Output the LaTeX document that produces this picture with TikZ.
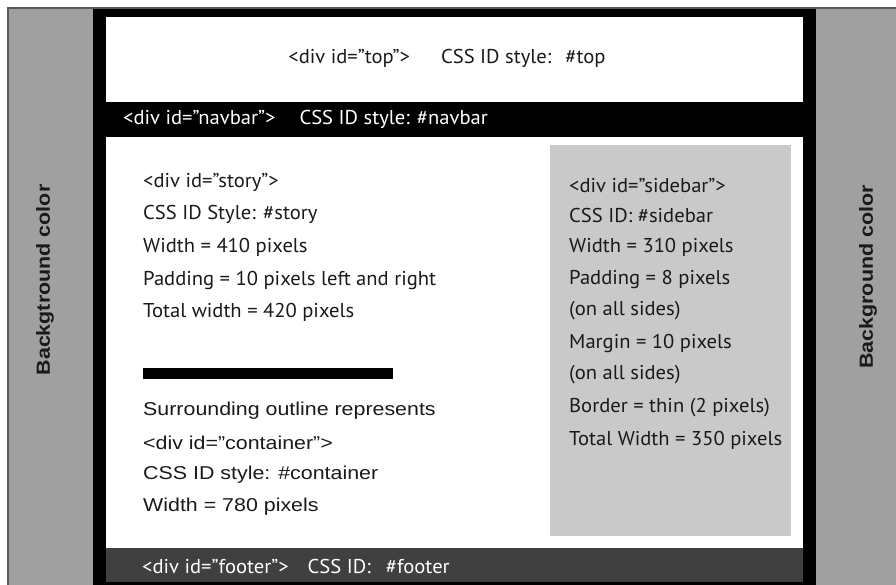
\documentclass[tikz,border=0pt]{standalone}
\usepackage{fontspec}
\setmainfont{PT Sans}[FakeStretch=1.03]
\newfontfamily\arialfont{Liberation Sans}[FakeStretch=1.15]
\newfontfamily\arialside{Liberation Sans}[FakeStretch=1.13]
\usepackage{xcolor}
\usetikzlibrary{positioning}

\definecolor{pagegray}{HTML}{A0A0A0}
\definecolor{edgegray}{HTML}{5A5A5A}
\definecolor{sidegray}{HTML}{C9C9C9}
\definecolor{footgray}{HTML}{404040}
\definecolor{inkgray}{HTML}{1A1A1A}

\begin{document}
\begin{tikzpicture}[
  x=1pt, y=-1pt,
  txt/.style={anchor=west, inner sep=0pt, text=inkgray, font=\fontsize{20}{22}\selectfont},
  arialtxt/.style={anchor=west, inner sep=0pt, text=inkgray, font=\arialfont\fontsize{18.6}{22}\selectfont},
  sidetxt/.style={inner sep=0pt, rotate=90, text=inkgray, font=\arialside\bfseries\fontsize{19}{22}\selectfont},
  bartxt/.style={anchor=west, inner sep=0pt, text=white, font=\fontsize{20}{22}\selectfont}
]
\useasboundingbox (0,0) rectangle (896,585);
\fill[white] (0,0) rectangle (896,585);

% page background and container
\draw[edgegray, fill=pagegray, line width=1.2pt] (8,8) rectangle (897,586);
\fill[black] (93,9) rectangle (816,585);
\fill[white] (106,17) rectangle (803,102);
\fill[white] (106,137) rectangle (803,548);
\fill[footgray] (106,548) rectangle (803,582);
\fill[sidegray] (550,145) rectangle (791,536);
\fill[black] (143,368) rectangle (393,379);

% side labels
\node[sidetxt] (bgleft) at (45,280) {Backgtround color};
\node[sidetxt] (bgright) at (868,277) {Background color};

% top and navbar
\node[txt, anchor=center] (top) at (447,58) {<div id=”top”>\hspace{31pt}CSS ID style:\hspace{14pt}\#top};
\node[bartxt] (navbar) at (123,119) {<div id=”navbar”>\hspace{24pt}CSS ID style:\hspace{7pt}\#navbar};

% story column
\node[txt] (story1) at (143,182) {<div id=”story”>};
\node[txt] (story2) at (143,214) {CSS ID Style: \#story};
\node[txt] (story3) at (143,247) {Width = 410 pixels};
\node[txt] (story4) at (143,280) {Padding = 10 pixels left and right};
\node[txt] (story5) at (143,312) {Total width = 420 pixels};

% container note
\node[arialtxt] (cont1) at (143,411) {Surrounding outline represents};
\node[arialtxt] (cont2) at (143,443) {<div id=”container”>};
\node[arialtxt] (cont3) at (143,475) {CSS ID style: \#container};
\node[arialtxt] (cont4) at (143,507) {Width = 780 pixels};

% sidebar
\node[txt] (side1) at (569,186) {<div id=”sidebar”>};
\node[txt] (side2) at (569,216) {CSS ID: \#sidebar};
\node[txt] (side3) at (569,247) {Width = 310 pixels};
\node[txt] (side4) at (569,279) {Padding = 8 pixels};
\node[txt] (side5) at (569,311) {(on all sides)};
\node[txt] (side6) at (569,343) {Margin = 10 pixels};
\node[txt] (side7) at (569,375) {(on all sides)};
\node[txt] (side8) at (569,408) {Border = thin (2 pixels)};
\node[txt] (side9) at (569,440) {Total Width = 350 pixels};

% footer
\node[bartxt] (footer) at (142,566) {<div id=”footer”>\hspace{19pt}CSS ID:\hspace{15pt}\#footer};
\end{tikzpicture}
\end{document}
